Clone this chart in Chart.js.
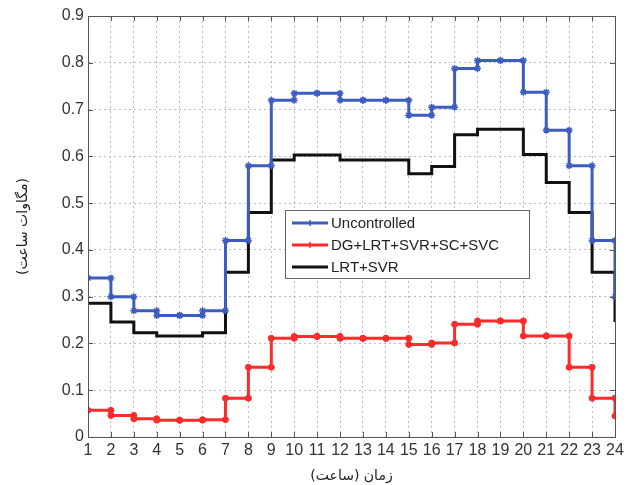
<!DOCTYPE html>
<html>
<head>
<meta charset="utf-8">
<script src="https://cdn.jsdelivr.net/npm/chart.js@4.4.0/dist/chart.umd.min.js"></script>
<style>
    html, body { margin: 0; padding: 0; background: #fff; }
    #wrap { width: 632px; height: 485px; }
</style>
</head>
<body>
<div id="wrap"><canvas id="chart" width="632" height="485"></canvas></div>
<script>
// ساعت‌ها
const hours = [1, 2, 3, 4, 5, 6, 7, 8, 9, 10, 11, 12, 13, 14, 15, 16, 17, 18, 19, 20, 21, 22, 23, 24];

const uncontrolled = [0.34, 0.30, 0.27, 0.26, 0.26, 0.27, 0.42, 0.58, 0.72, 0.735, 0.735, 0.72,
    0.72, 0.72, 0.688, 0.705, 0.788, 0.805, 0.805, 0.737, 0.656, 0.58, 0.42, 0.30];
const dgLrtSvr = [0.057, 0.046, 0.039, 0.036, 0.036, 0.037, 0.083, 0.149, 0.211, 0.215, 0.215, 0.211,
    0.211, 0.211, 0.198, 0.201, 0.241, 0.248, 0.248, 0.216, 0.216, 0.149, 0.083, 0.045];
const lrtSvr = [0.286, 0.246, 0.223, 0.216, 0.216, 0.223, 0.352, 0.48, 0.592, 0.603, 0.603, 0.592,
    0.592, 0.592, 0.563, 0.578, 0.646, 0.658, 0.658, 0.604, 0.544, 0.48, 0.352, 0.246];

const seriesLabels = ['Uncontrolled', 'DG+LRT+SVR+SC+SVC', 'LRT+SVR'];
const xTitle = 'زمان (ساعت)';
const yTitle = '(مگاوات ساعت)';

// stairs: each hour holds its value until the next hour, corners are kept as points
function stairs(values) {
    const pts = [];
    for (let i = 0; i < values.length - 1; i++) {
        pts.push({ x: hours[i], y: values[i] });
        pts.push({ x: hours[i + 1], y: values[i] });
    }
    pts.push({ x: hours[hours.length - 1], y: values[values.length - 1] });
    return pts;
}

const tickFont = { family: "'Liberation Sans', Arial, sans-serif", size: 16 };

// frame, inner ticks and legend box like MATLAB
const matlabBox = {
    id: 'matlabBox',
    afterDraw(chart) {
        const { ctx, chartArea: a, scales } = chart;
        ctx.save();
        ctx.strokeStyle = '#555';
        ctx.lineWidth = 1;
        ctx.beginPath();
        scales.x.ticks.forEach(t => {
            const px = Math.round(scales.x.getPixelForValue(t.value)) + 0.5;
            ctx.moveTo(px, a.bottom); ctx.lineTo(px, a.bottom - 5);
            ctx.moveTo(px, a.top); ctx.lineTo(px, a.top + 5);
        });
        scales.y.ticks.forEach(t => {
            const py = Math.round(scales.y.getPixelForValue(t.value)) + 0.5;
            ctx.moveTo(a.left, py); ctx.lineTo(a.left + 5, py);
            ctx.moveTo(a.right, py); ctx.lineTo(a.right - 5, py);
        });
        ctx.stroke();
        ctx.strokeRect(Math.round(a.left) + 0.5, Math.round(a.top) + 0.5,
            Math.round(a.right - a.left), Math.round(a.bottom - a.top));

        // legend
        const lx = 285, ly = 210, lw = 244, lh = 68;
        ctx.fillStyle = '#fff';
        ctx.fillRect(lx, ly, lw, lh);
        ctx.strokeStyle = '#666';
        ctx.strokeRect(lx + 0.5, ly + 0.5, lw, lh);
        ctx.font = "15px 'Liberation Sans', Arial, sans-serif";
        ctx.textBaseline = 'middle';
        chart.data.datasets.forEach((ds, i) => {
            const y = ly + 13 + i * 22;
            ctx.strokeStyle = ds.borderColor;
            ctx.lineWidth = 3;
            ctx.beginPath();
            ctx.moveTo(lx + 7, y); ctx.lineTo(lx + 43, y);
            ctx.stroke();
            if (ds.pointRadius > 0) {
                ctx.lineWidth = 1.5;
                ctx.beginPath();
                ctx.moveTo(lx + 25, y - 3); ctx.lineTo(lx + 25, y + 3);
                ctx.stroke();
            }
            ctx.fillStyle = '#222';
            ctx.fillText(ds.label, lx + 46, y + 1);
        });
        ctx.restore();
    }
};

new Chart(document.getElementById('chart'), {
    type: 'line',
    data: {
        datasets: [
            {
                label: seriesLabels[0],
                data: stairs(uncontrolled),
                borderColor: '#3c5cc0',
                backgroundColor: '#3c5cc0',
                borderWidth: 3,
                pointStyle: 'star',
                pointRadius: 3.5,
                pointBorderWidth: 1.5,
                tension: 0
            },
            {
                label: seriesLabels[1],
                data: stairs(dgLrtSvr),
                borderColor: '#ff2a2a',
                backgroundColor: '#ff2a2a',
                borderWidth: 3,
                pointStyle: 'circle',
                pointRadius: 3,
                pointBorderWidth: 1,
                tension: 0
            },
            {
                label: seriesLabels[2],
                data: stairs(lrtSvr),
                borderColor: '#111111',
                backgroundColor: '#111111',
                borderWidth: 3,
                pointRadius: 0,
                tension: 0
            }
        ]
    },
    options: {
        responsive: false,
        animation: false,
        layout: { padding: { left: 6, right: 17, top: 16, bottom: 0 } },
        plugins: {
            legend: { display: false },
            tooltip: { enabled: false }
        },
        scales: {
            x: {
                type: 'linear',
                min: 1,
                max: 24,
                ticks: { stepSize: 1, color: '#333', font: tickFont, padding: 4, maxRotation: 0, autoSkip: false },
                grid: { color: '#bdbdbd', drawTicks: false },
                border: { dash: [2, 3], color: '#555' },
                title: {
                    display: true,
                    text: xTitle,
                    color: '#222',
                    font: { family: "'DejaVu Sans', sans-serif", size: 14 },
                    padding: { top: 9, bottom: 0 }
                },
                afterFit(scale) { scale.height = 48; }
            },
            y: {
                min: 0,
                max: 0.9,
                ticks: {
                    stepSize: 0.1,
                    color: '#333',
                    font: tickFont,
                    padding: 4,
                    callback: v => Math.round(v * 10) / 10
                },
                grid: { color: '#bdbdbd', drawTicks: false },
                border: { dash: [2, 3], color: '#555' },
                title: {
                    display: true,
                    text: yTitle,
                    color: '#222',
                    font: { family: "'DejaVu Sans', sans-serif", size: 14 },
                    padding: { top: 9, bottom: 12 }
                },
                afterFit(scale) { scale.width = 82; }
            }
        }
    },
    plugins: [matlabBox]
});
</script>
</body>
</html>
